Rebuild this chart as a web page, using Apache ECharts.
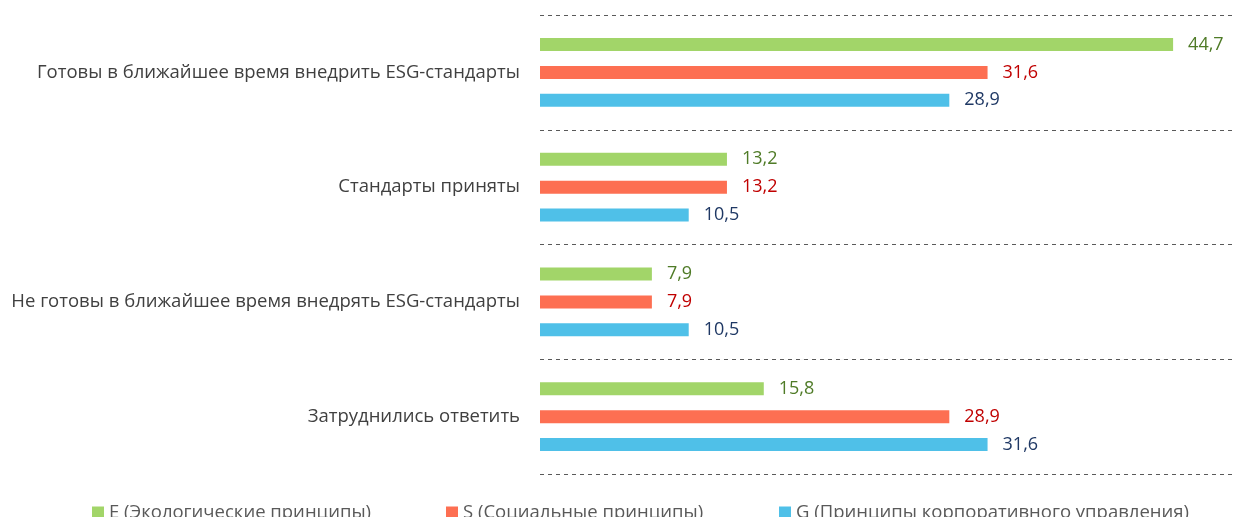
<!DOCTYPE html>
<html>
<head>
<meta charset="utf-8">
<script src="https://cdn.jsdelivr.net/npm/echarts@6/dist/echarts.min.js"></script>
<style>
  html, body { margin: 0; padding: 0; background: #fff; }
  #chart { width: 1236px; height: 517px; }
</style>
</head>
<body>
<div id="chart"></div>
<script>
// данные опроса, %
const categories = [
    'Готовы в ближайшее время внедрить ESG-стандарты',
    'Стандарты приняты',
    'Не готовы в ближайшее время внедрять ESG-стандарты',
    'Затруднились ответить'
];
const seriesNames = [
    'E (Экологические принципы)',
    'S (Социальные принципы)',
    'G (Принципы корпоративного управления)'
];
const valuesE = [44.7, 13.2, 7.9, 15.8];
const valuesS = [31.6, 13.2, 7.9, 28.9];
const valuesG = [28.9, 10.5, 10.5, 31.6];

const barColors = ['#A2D569', '#FD6F52', '#4FC0E8'];
const labelColors = ['#4F7B27', '#C00000', '#1F3864'];
const font = 'Open Sans';

const chart = echarts.init(document.getElementById('chart'));

function makeSeries(name, data, i) {
    return {
        name: name,
        type: 'bar',
        data: data,
        barWidth: 13,
        barGap: '115%',
        itemStyle: { color: barColors[i] },
        label: {
            show: true,
            position: 'right',
            distance: 15,
            color: labelColors[i],
            fontFamily: font,
            fontSize: 18,
            formatter: p => p.value.toFixed(1).replace('.', ',')
        }
    };
}

const legendLefts = [92, 446, 779];

const option = {
    animation: false,
    grid: { left: 540, right: 2, top: 15, bottom: 43 },
    legend: seriesNames.map((n, i) => ({
        data: [n],
        left: legendLefts[i],
        top: 503,
        padding: 0,
        icon: 'rect',
        itemWidth: 12,
        itemHeight: 12,
        itemGap: 4,
        textStyle: { color: '#595959', fontFamily: font, fontSize: 18.5 }
    })),
    xAxis: {
        type: 'value',
        min: 0,
        max: 49,
        show: false
    },
    yAxis: {
        type: 'category',
        data: categories,
        inverse: true,
        axisLine: { show: false },
        axisTick: { show: false },
        axisLabel: { margin: 20, color: '#404040', fontFamily: font, fontSize: 18.5 },
        splitLine: { show: true, lineStyle: { color: '#595959', type: [4, 4], width: 1 } }
    },
    series: [
        makeSeries(seriesNames[0], valuesE, 0),
        makeSeries(seriesNames[1], valuesS, 1),
        makeSeries(seriesNames[2], valuesG, 2)
    ]
};

chart.setOption(option);
window.addEventListener('resize', chart.resize);
</script>
</body>
</html>
